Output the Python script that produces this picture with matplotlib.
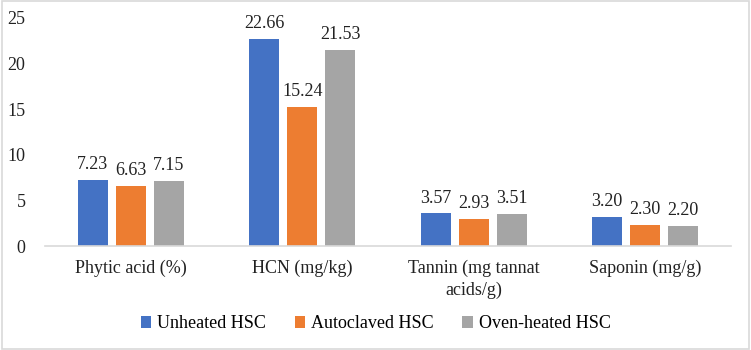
import numpy as np
import matplotlib.pyplot as plt

categories = ['Phytic acid (%)', 'HCN (mg/kg)', 'Tannin (mg tannat\nacids/g)', 'Saponin (mg/g)']
unheated = [7.23, 22.66, 3.57, 3.20]
autoclaved = [6.63, 15.24, 2.93, 2.30]
oven = [7.15, 21.53, 3.51, 2.20]
series = ['Unheated HSC', 'Autoclaved HSC', 'Oven-heated HSC']
colors = ['#4472C4', '#ED7D31', '#A5A5A5']

plt.rcParams['font.family'] = ['Liberation Serif', 'DejaVu Serif']

fig = plt.figure(figsize=(7.51, 3.5), dpi=100)
ax = fig.add_axes([0.06, 0.297, 0.913, 0.652])

x = np.arange(len(categories))
w = 0.175
step = 0.222
for i, (vals, name, c) in enumerate(zip([unheated, autoclaved, oven], series, colors)):
    bars = ax.bar(x + (i - 1) * step, vals, w, color=c, label=name, zorder=2)
    for b, v in zip(bars, vals):
        ax.text(b.get_x() + b.get_width() / 2, v + 0.75, '%.2f' % v,
                ha='center', va='bottom', fontsize=13, color='#222222')

ax.set_xlim(-0.5, len(categories) - 0.5)
ax.set_ylim(0, 25)
ax.set_yticks([0, 5, 10, 15, 20, 25])
ax.set_xticks(x)
ax.set_xticklabels(categories, fontsize=13, color='#222222', linespacing=1.3)
ax.tick_params(axis='y', labelsize=13, labelcolor='#222222', length=0, pad=14)
ax.tick_params(axis='x', length=0, pad=10)
for s in ['top', 'right', 'left']:
    ax.spines[s].set_visible(False)
ax.spines['bottom'].set_color('#D9D9D9')
ax.spines['bottom'].set_linewidth(1.2)

fig.legend(loc='center', bbox_to_anchor=(0.5, 0.075), ncol=3, frameon=False,
           fontsize=13, handlelength=0.6, handleheight=0.6, handletextpad=0.3,
           columnspacing=1.6)

fig.patches.append(plt.Rectangle((0.002, 0.003), 0.996, 0.994, transform=fig.transFigure,
                                 fill=False, edgecolor='#D9D9D9', linewidth=1.2))

fig.savefig('out.png', dpi=100)
